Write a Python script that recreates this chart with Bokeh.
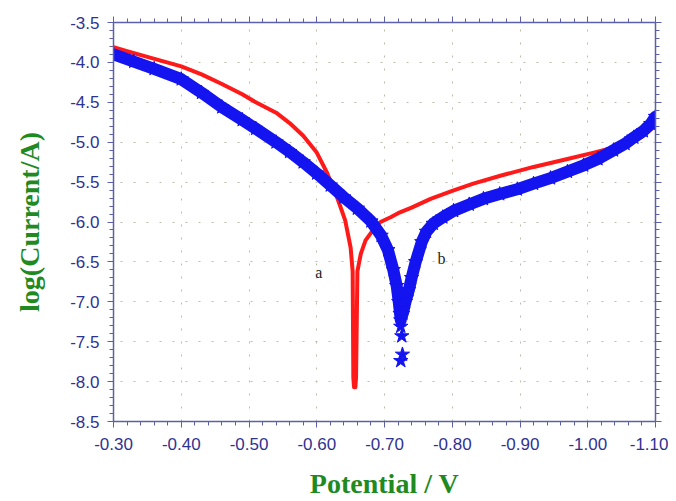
from bokeh.plotting import figure
from bokeh.models import (Range1d, LinearAxis, SingleIntervalTicker, PrintfTickFormatter,
                          Label, CustomJSTickFormatter)
from bokeh.embed import file_html
from bokeh.resources import INLINE

# ---- data ----
a_potential = [-0.300, -0.320, -0.350, -0.400, -0.430, -0.460, -0.490, -0.510, -0.540,
               -0.560, -0.580, -0.600, -0.615, -0.630, -0.642, -0.650, -0.653, -0.654,
               -0.655, -0.657, -0.658, -0.660, -0.665, -0.672, -0.684, -0.694, -0.709,
               -0.720, -0.740, -0.768, -0.800, -0.831, -0.871, -0.920, -0.970, -1.009,
               -1.050, -1.080, -1.097]
a_logi = [-3.81, -3.86, -3.93, -4.05, -4.15, -4.27, -4.40, -4.50, -4.63,
          -4.76, -4.92, -5.13, -5.38, -5.69, -5.98, -6.32, -6.62, -7.95,
          -8.07, -8.07, -7.95, -6.62, -6.40, -6.23, -6.09, -6.00, -5.94,
          -5.89, -5.82, -5.71, -5.61, -5.52, -5.42, -5.31, -5.21, -5.13,
          -5.04, -4.93, -4.81]

b_left_potential = [-0.300, -0.330, -0.360, -0.400, -0.430, -0.460, -0.490, -0.510, -0.540,
                    -0.560, -0.580, -0.600, -0.620, -0.640, -0.660, -0.680, -0.695, -0.705,
                    -0.713, -0.718, -0.721, -0.723, -0.724]
b_left_logi = [-3.90, -3.99, -4.08, -4.21, -4.38, -4.56, -4.72, -4.83, -5.00,
               -5.12, -5.25, -5.39, -5.54, -5.69, -5.83, -5.99, -6.17, -6.35,
               -6.60, -6.80, -7.00, -7.15, -7.23]
b_tip_potential = [-0.724, -0.7255, -0.7265, -0.724]
b_tip_logi = [-7.31, -7.43, -7.66, -7.74]
b_right_potential = [-0.727, -0.731, -0.736, -0.740, -0.746, -0.755, -0.762, -0.772, -0.786,
                     -0.802, -0.825, -0.846, -0.870, -0.896, -0.920, -0.945, -0.970, -0.994,
                     -1.015, -1.038, -1.055, -1.068, -1.082, -1.093, -1.100]
b_right_logi = [-7.15, -7.00, -6.85, -6.70, -6.50, -6.25, -6.12, -6.02, -5.94,
                -5.86, -5.78, -5.71, -5.65, -5.59, -5.52, -5.45, -5.37, -5.29,
                -5.21, -5.10, -5.02, -4.94, -4.86, -4.77, -4.68]

x_start, x_end = -0.30, -1.10
y_start, y_end = -8.5, -3.5

AXIS_COLOR = "#5c60a8"
TICK_TEXT = "#2f3390"
GREEN = "#1f8a1f"
BLUE = "#1414f0"

p = figure(width=668, height=501, output_backend="svg", toolbar_location=None,
           x_range=Range1d(x_start, x_end), y_range=Range1d(y_start, y_end),
           min_border_left=113, min_border_right=13, min_border_top=22, min_border_bottom=80,
           background_fill_color="white", border_fill_color="white")
p.outline_line_color = None

xt = SingleIntervalTicker(interval=0.1, num_minor_ticks=5)
yt = SingleIntervalTicker(interval=0.5, num_minor_ticks=5)

p.xaxis.ticker = xt
p.yaxis.ticker = yt
p.xaxis.formatter = PrintfTickFormatter(format="%.2f")
p.yaxis.formatter = PrintfTickFormatter(format="%.1f")

for ax in (p.xaxis[0], p.yaxis[0]):
    ax.axis_line_color = AXIS_COLOR
    ax.axis_line_width = 1.5
    ax.major_tick_line_color = AXIS_COLOR
    ax.minor_tick_line_color = AXIS_COLOR
    ax.major_tick_out = 6
    ax.major_tick_in = 0
    ax.minor_tick_out = 4
    ax.minor_tick_in = 0
    ax.major_label_text_color = TICK_TEXT
    ax.major_label_text_font = "Liberation Sans"
    ax.major_label_text_font_size = "17px"
    ax.major_label_standoff = 8
    ax.axis_label_text_font = "Liberation Serif"
    ax.axis_label_text_font_style = "bold"
    ax.axis_label_text_font_size = "28px"
    ax.axis_label_text_color = GREEN

p.xaxis.major_label_standoff = 10
p.yaxis.axis_label = "log(Current/A)"
p.yaxis.axis_label_standoff = 22
p.xaxis.axis_label = "Potential / V"
p.xaxis.axis_label_standoff = 15

for loc, tk in (("right", yt), ("above", xt)):
    ax = LinearAxis(ticker=tk, formatter=CustomJSTickFormatter(code="return ''"))
    ax.axis_line_color = AXIS_COLOR
    ax.axis_line_width = 1.5
    ax.major_tick_line_color = AXIS_COLOR
    ax.minor_tick_line_color = AXIS_COLOR
    ax.major_tick_out = 6
    ax.major_tick_in = 0
    ax.minor_tick_out = 4
    ax.minor_tick_in = 0
    ax.major_label_standoff = 0
    p.add_layout(ax, loc)

p.xgrid.ticker = xt
p.ygrid.ticker = yt
for g in (p.xgrid[0], p.ygrid[0]):
    g.grid_line_color = "#bcbcaa"
    g.grid_line_dash = "2 11"
    g.grid_line_width = 1

# curve a (red)
p.line(a_potential, a_logi, line_color="#ff1a1a", line_width=4, line_join="round", line_cap="butt")

# curve b (blue stars)
p.line(b_left_potential, b_left_logi, line_color=BLUE, line_width=12, line_join="round", line_cap="round")
p.line(b_right_potential, b_right_logi, line_color=BLUE, line_width=12, line_join="round", line_cap="round")
p.scatter(b_left_potential + b_tip_potential + b_right_potential,
          b_left_logi + b_tip_logi + b_right_logi,
          marker="star", size=15, fill_color=BLUE, line_color=BLUE)

for txt, lx, ly in (("a", -0.603, -6.63), ("b", -0.784, -6.46)):
    p.add_layout(Label(x=lx, y=ly, text=txt, text_font="Liberation Serif", text_font_size="16px",
                       text_color="#222222", text_align="center", text_baseline="middle"))

open("out.html", "w").write(file_html(p, INLINE))
